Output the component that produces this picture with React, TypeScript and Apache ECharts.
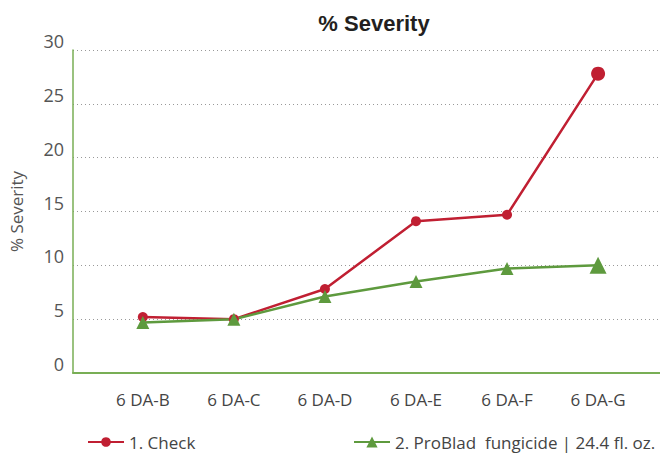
import React, { useEffect, useRef } from "react";
import * as echarts from "echarts";

const categories = ["6 DA-B", "6 DA-C", "6 DA-D", "6 DA-E", "6 DA-F", "6 DA-G"];
const checkValues = [5.2, 5.0, 7.8, 14.1, 14.7, 27.8];
const probladValues = [4.7, 5.0, 7.1, 8.5, 9.7, 10.0];
const seriesNames = ["1. Check", "2. ProBlad  fungicide | 24.4 fl. oz."];
const yTicks = [0, 5, 10, 15, 20, 25, 30];

const RED = "#C01F32";
const GREEN = "#5E9A3E";
const AXIS_GREEN = "#78AE55";
const FONT = "'Open Sans', 'Noto Sans', sans-serif";

export default function App() {
  const ref = useRef<HTMLDivElement>(null);
  useEffect(() => {
    if (!ref.current) return;
    const chart = echarts.init(ref.current, undefined, { renderer: "svg" });
    const idx = categories.map((_, i) => i);
    chart.setOption({
      animation: false,
      backgroundColor: "#ffffff",
      title: {
        text: "% Severity",
        left: 369,
        textAlign: "center",
        top: 7,
        textStyle: {
          fontFamily: "'Liberation Sans', Arial, sans-serif",
          fontWeight: "bold",
          fontSize: 22,
          color: "#231F20",
        },
      },
      legend: [
        {
          data: [seriesNames[0]],
          left: 87,
          top: 433,
          padding: 0,
          itemWidth: 36,
          itemHeight: 12,
          itemGap: 0,
          textStyle: { fontFamily: FONT, fontSize: 17, color: "#444", lineHeight: 18 },
        },
        {
          data: [seriesNames[1]],
          left: 353,
          top: 433,
          padding: 0,
          itemWidth: 36,
          itemHeight: 14,
          itemGap: 0,
          textStyle: { fontFamily: FONT, fontSize: 17, color: "#444", lineHeight: 18 },
        },
      ],
      grid: { left: 69, right: 0, top: 50, bottom: 80, containLabel: false },
      xAxis: {
        type: "value",
        min: -0.767,
        max: 5.68,
        axisLine: { show: true, onZero: false, lineStyle: { color: AXIS_GREEN, width: 2 } },
        axisTick: { show: false },
        splitLine: { show: false },
        axisLabel: {
          customValues: idx,
          formatter: (v: number) => categories[Math.round(v)] ?? "",
          fontFamily: FONT,
          fontSize: 17,
          color: "#444",
          margin: 18,
        },
      },
      yAxis: {
        type: "value",
        min: yTicks[0],
        max: yTicks[yTicks.length - 1],
        interval: 5,
        name: "% Severity",
        nameLocation: "middle",
        nameGap: 48,
        nameRotate: 90,
        nameTextStyle: { fontFamily: FONT, fontSize: 17, color: "#555" },
        axisLine: { show: true, onZero: false, lineStyle: { color: AXIS_GREEN, width: 1.5 } },
        axisTick: { show: false },
        axisLabel: {
          fontFamily: FONT,
          fontSize: 18,
          color: "#555",
          margin: 9,
          verticalAlign: "bottom",
          lineHeight: 18,
        },
        splitLine: {
          show: true,
          lineStyle: { color: "#999", type: [1, 3], width: 1 },
        },
      },
      series: [
        {
          name: seriesNames[0],
          type: "line",
          data: checkValues.map((v, i) => [i, v]),
          symbol: "circle",
          symbolSize: (_v: any, p: any) => (p.dataIndex === categories.length - 1 ? 14 : 10),
          itemStyle: { color: RED },
          lineStyle: { color: RED, width: 2.5 },
        },
        {
          name: seriesNames[1],
          type: "line",
          data: probladValues.map((v, i) => [i, v]),
          symbol: "triangle",
          symbolSize: (_v: any, p: any) => (p.dataIndex === categories.length - 1 ? 17 : 13),
          itemStyle: { color: GREEN },
          lineStyle: { color: GREEN, width: 2.5 },
        },
      ],
    });
    return () => chart.dispose();
  }, []);
  return <div ref={ref} style={{ width: 660, height: 453, position: "absolute", left: 0, top: 0 }} />;
}
